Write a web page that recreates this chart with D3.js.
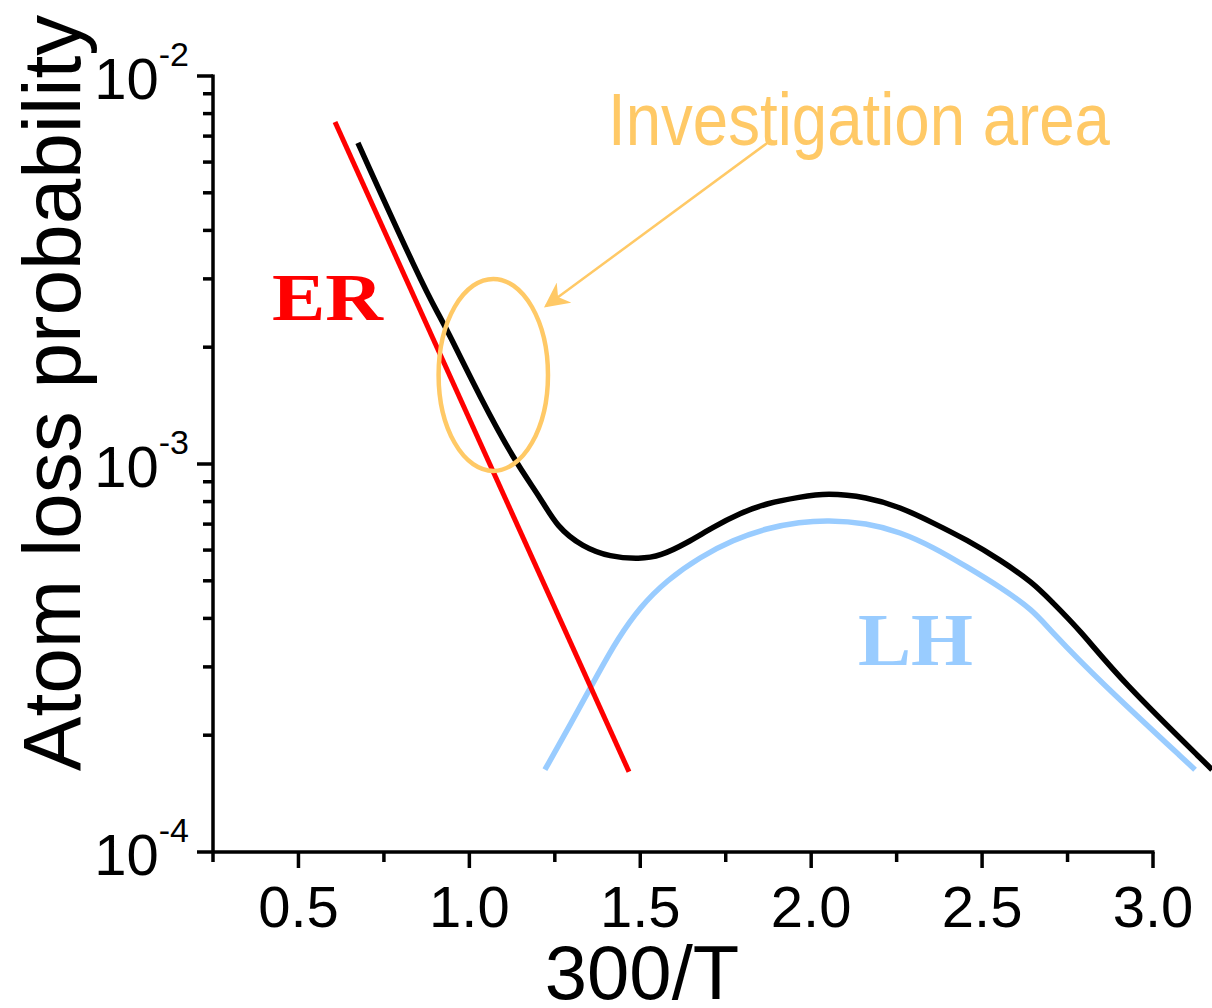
<!DOCTYPE html>
<html>
<head>
<meta charset="utf-8">
<script src="https://cdn.jsdelivr.net/npm/d3@7"></script>
<style>
  body { margin: 0; background: #fff; }
  svg { display: block; }
</style>
</head>
<body>
<div id="chart"></div>
<script>
// x = 300/T, y = atom loss probability
const totalX = [0.674, 0.856, 0.914, 0.935, 1.031, 1.134, 1.207, 1.256, 1.332, 1.411, 1.499, 1.558, 1.637, 1.713, 1.792, 1.871, 1.967, 2.046, 2.163, 2.260, 2.357, 2.456, 2.553, 2.649, 2.699, 2.787, 2.904, 3.173];
const totalY = [6.72e-3, 2.98e-3, 2.39e-3, 2.215e-3, 1.488e-3, 1.012e-3, 8.22e-4, 6.88e-4, 6.11e-4, 5.76e-4, 5.69e-4, 5.79e-4, 6.26e-4, 6.88e-4, 7.47e-4, 7.93e-4, 8.22e-4, 8.42e-4, 8.22e-4, 7.75e-4, 7.05e-4, 6.37e-4, 5.66e-4, 4.94e-4, 4.46e-4, 3.73e-4, 2.78e-4, 1.63e-4];

const lhX = [1.221, 1.294, 1.382, 1.432, 1.499, 1.578, 1.675, 1.771, 1.871, 1.967, 2.046, 2.163, 2.260, 2.357, 2.456, 2.553, 2.649, 2.699, 2.839, 3.123];
const lhY = [1.63e-4, 2.12e-4, 2.94e-4, 3.52e-4, 4.28e-4, 5.02e-4, 5.76e-4, 6.37e-4, 6.84e-4, 7.08e-4, 7.17e-4, 7.05e-4, 6.68e-4, 6.11e-4, 5.43e-4, 4.82e-4, 4.20e-4, 3.73e-4, 2.78e-4, 1.63e-4];

const erX = [0.607, 1.467];
const erY = [7.61e-3, 1.61e-4];

const xTicks = [0.5, 1.0, 1.5, 2.0, 2.5, 3.0];
const yTicks = [1e-2, 1e-3, 1e-4];

// annotation ellipse around the ER / total crossover (data units)
const areaX = [0.91, 1.23];
const areaY = [3.0e-3, 9.6e-4];

const W = 1212, H = 1008;
const margin = { top: 76, right: 59, bottom: 156, left: 213 };

const svg = d3.select("#chart").append("svg")
    .attr("width", W)
    .attr("height", H);

const x = d3.scaleLinear().domain([0.25, 3.0]).range([margin.left, W - margin.right]);
const y = d3.scaleLog().domain([1e-4, 1e-2]).range([H - margin.bottom, margin.top]);

const font = "'Liberation Sans', Arial, sans-serif";

// axes
const yMinor = [];
[1e-4, 1e-3].forEach(function(d) {
  for (let k = 2; k <= 9; k++) yMinor.push(d * k);
});
const xMinor = d3.range(0.25, 3.0, 0.5);

const ax = svg.append("g").attr("stroke", "#000").attr("stroke-width", 3.5);
ax.append("line")
    .attr("x1", x(0.25)).attr("x2", x(0.25))
    .attr("y1", y(1e-2) - 1.5).attr("y2", y(1e-4));
ax.append("line")
    .attr("x1", x(0.25)).attr("x2", x(3.0) + 1.5)
    .attr("y1", y(1e-4)).attr("y2", y(1e-4));

ax.selectAll(".ymaj").data(yTicks).enter().append("line")
    .attr("x1", x(0.25) - 16).attr("x2", x(0.25))
    .attr("y1", d => y(d)).attr("y2", d => y(d));
ax.selectAll(".ymin").data(yMinor).enter().append("line")
    .attr("x1", x(0.25) - 10).attr("x2", x(0.25))
    .attr("y1", d => y(d)).attr("y2", d => y(d));
ax.selectAll(".xmaj").data(xTicks).enter().append("line")
    .attr("x1", d => x(d)).attr("x2", d => x(d))
    .attr("y1", y(1e-4)).attr("y2", y(1e-4) + 16);
ax.selectAll(".xmin").data(xMinor).enter().append("line")
    .attr("x1", d => x(d)).attr("x2", d => x(d))
    .attr("y1", y(1e-4)).attr("y2", y(1e-4) + 10);

// tick labels
svg.selectAll(".xl").data(xTicks).enter().append("text")
    .attr("x", d => x(d))
    .attr("y", y(1e-4) + 75)
    .attr("text-anchor", "middle")
    .attr("font-family", font)
    .attr("font-size", 58)
    .text(d => d.toFixed(1));

const yl = svg.selectAll(".yl").data(yTicks).enter().append("text")
    .attr("x", x(0.25) - 24)
    .attr("y", d => y(d) + 23)
    .attr("text-anchor", "end")
    .attr("font-family", font)
    .attr("font-size", 58);
yl.append("tspan").text("10");
yl.append("tspan")
    .attr("font-size", 34)
    .attr("dy", -33)
    .text(d => "-" + Math.round(-Math.log10(d)));

// axis titles
svg.append("text")
    .attr("x", (x(0.25) + x(3.0)) / 2 - 41)
    .attr("y", 999)
    .attr("text-anchor", "middle")
    .attr("font-family", font)
    .attr("font-size", 76)
    .text("300/T");

svg.append("text")
    .attr("transform", "translate(80,393) rotate(-90)")
    .attr("text-anchor", "middle")
    .attr("font-family", font)
    .attr("font-size", 82)
    .text("Atom loss probability");

// curves
const line = d3.line()
    .x(d => x(d[0]))
    .y(d => y(d[1]))
    .curve(d3.curveBasis);

svg.append("path")
    .datum(lhX.map((d, i) => [d, lhY[i]]))
    .attr("d", line)
    .attr("fill", "none")
    .attr("stroke", "#99ccff")
    .attr("stroke-width", 5.5);

svg.append("path")
    .datum(erX.map((d, i) => [d, erY[i]]))
    .attr("d", d3.line().x(d => x(d[0])).y(d => y(d[1])))
    .attr("fill", "none")
    .attr("stroke", "#ff0000")
    .attr("stroke-width", 5);

svg.append("path")
    .datum(totalX.map((d, i) => [d, totalY[i]]))
    .attr("d", line)
    .attr("fill", "none")
    .attr("stroke", "#000")
    .attr("stroke-width", 5.5);

// annotation
const orange = "#ffc966";
svg.append("ellipse")
    .attr("cx", (x(areaX[0]) + x(areaX[1])) / 2)
    .attr("cy", (y(areaY[0]) + y(areaY[1])) / 2)
    .attr("rx", (x(areaX[1]) - x(areaX[0])) / 2)
    .attr("ry", (y(areaY[1]) - y(areaY[0])) / 2)
    .attr("fill", "none")
    .attr("stroke", orange)
    .attr("stroke-width", 4.5);

svg.append("defs").append("marker")
    .attr("id", "arr")
    .attr("viewBox", "0 0 10 10")
    .attr("refX", 9).attr("refY", 5)
    .attr("markerWidth", 10).attr("markerHeight", 10)
    .attr("markerUnits", "strokeWidth")
    .attr("orient", "auto")
  .append("path")
    .attr("d", "M0,0 L10,5 L0,10 L3,5 Z")
    .attr("fill", orange);

svg.append("line")
    .attr("x1", 770).attr("y1", 141)
    .attr("x2", 546).attr("y2", 306)
    .attr("stroke", orange)
    .attr("stroke-width", 2.5)
    .attr("marker-end", "url(#arr)");

svg.append("text")
    .attr("x", 608).attr("y", 145)
    .attr("font-family", font)
    .attr("font-size", 74)
    .attr("textLength", 502)
    .attr("lengthAdjust", "spacingAndGlyphs")
    .attr("fill", orange)
    .text("Investigation area");

svg.append("text")
    .attr("x", 272).attr("y", 320)
    .attr("font-family", "'Liberation Serif', 'Times New Roman', serif")
    .attr("font-weight", "bold")
    .attr("font-size", 68)
    .attr("textLength", 111)
    .attr("lengthAdjust", "spacingAndGlyphs")
    .attr("fill", "#ff0000")
    .text("ER");

svg.append("text")
    .attr("x", 858).attr("y", 665)
    .attr("font-family", "'Liberation Serif', 'Times New Roman', serif")
    .attr("font-weight", "bold")
    .attr("font-size", 75)
    .attr("textLength", 115)
    .attr("lengthAdjust", "spacingAndGlyphs")
    .attr("fill", "#99ccff")
    .text("LH");
</script>
</body>
</html>
